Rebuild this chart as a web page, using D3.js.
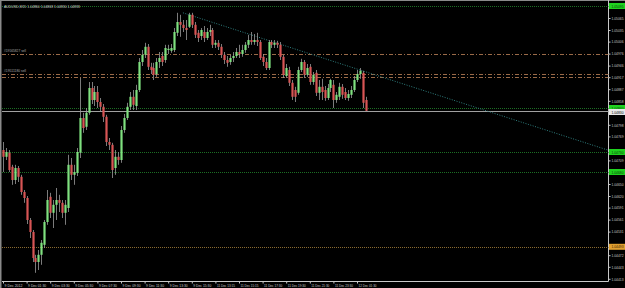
<!DOCTYPE html>
<html>
<head>
<meta charset="UTF-8">
<script src="https://d3js.org/d3.v7.min.js"></script>
<style>
  body { margin: 0; background: #000; }
  svg text { font-family: "Liberation Sans Narrow", "Arial Narrow", "Liberation Sans", sans-serif; }
</style>
</head>
<body>
<div id="chart"></div>
<script>
// AUDUSD M15 candles
const opens = [1.04735,1.04718,1.04728,1.04693,1.04660,1.04690,1.04668,1.04630,1.04615,1.04560,
  1.04530,1.04465,1.04455,1.04473,1.04498,1.04555,1.04618,1.04578,1.04598,1.04610,
  1.04603,1.04578,1.04590,1.04698,1.04673,1.04678,1.04728,1.04815,1.04793,1.04828,
  1.04890,1.04860,1.04880,1.04855,1.04843,1.04818,1.04755,1.04748,1.04690,1.04718,
  1.04710,1.04785,1.04815,1.04843,1.04868,1.04845,1.04885,1.04955,1.04973,1.04993,
  1.04943,1.04940,1.04925,1.04955,1.04970,1.04960,1.04985,1.04983,1.04985,1.05028,
  1.05055,1.05048,1.05040,1.05043,1.05073,1.05048,1.05028,1.05020,1.05030,1.05015,
  1.05030,1.05035,1.04998,1.05003,1.04993,1.04973,1.04960,1.04955,1.04965,1.04970,
  1.04980,1.04975,1.04985,1.04998,1.05010,1.05005,1.05010,1.05005,1.04968,1.04955,
  1.04940,1.05005,1.04998,1.05003,1.04998,1.04968,1.04920,1.04935,1.04903,1.04885,
  1.04878,1.04935,1.04955,1.04923,1.04943,1.04905,1.04928,1.04878,1.04893,1.04885,
  1.04865,1.04890,1.04898,1.04860,1.04868,1.04893,1.04880,1.04865,1.04873,1.04885,
  1.04910,1.04925,1.04928,1.04860];
const highs = [1.04755,1.04740,1.04735,1.04698,1.04698,1.04695,1.04673,1.04635,1.04620,1.04565,
  1.04535,1.04473,1.04485,1.04510,1.04560,1.04635,1.04628,1.04610,1.04640,1.04623,
  1.04610,1.04610,1.04723,1.04715,1.04698,1.04740,1.04915,1.04828,1.04840,1.04905,
  1.04905,1.04895,1.04895,1.04865,1.04850,1.04823,1.04765,1.04753,1.04735,1.04730,
  1.04795,1.04825,1.04853,1.04880,1.04885,1.04898,1.04965,1.04985,1.05003,1.05000,
  1.04953,1.04953,1.04965,1.04980,1.04980,1.04998,1.04998,1.05000,1.05040,1.05078,
  1.05073,1.05060,1.05060,1.05078,1.05078,1.05055,1.05035,1.05040,1.05045,1.05040,
  1.05048,1.05040,1.05010,1.05010,1.05000,1.04980,1.04970,1.04973,1.04980,1.04990,
  1.04998,1.04998,1.05005,1.05023,1.05030,1.05025,1.05028,1.05010,1.04975,1.04965,
  1.05010,1.05010,1.05010,1.05008,1.05005,1.04973,1.04950,1.04943,1.04910,1.04893,
  1.04943,1.04963,1.04960,1.04950,1.04950,1.04930,1.04935,1.04910,1.04913,1.04895,
  1.04900,1.04913,1.04910,1.04880,1.04903,1.04900,1.04890,1.04885,1.04895,1.04920,
  1.04935,1.04940,1.04933,1.04868];
const lows = [1.04680,1.04710,1.04680,1.04648,1.04650,1.04655,1.04623,1.04603,1.04550,1.04515,
  1.04455,1.04428,1.04435,1.04448,1.04490,1.04548,1.04565,1.04540,1.04560,1.04580,
  1.04565,1.04548,1.04580,1.04660,1.04648,1.04670,1.04715,1.04778,1.04785,1.04823,
  1.04850,1.04845,1.04840,1.04830,1.04805,1.04745,1.04735,1.04665,1.04673,1.04698,
  1.04703,1.04778,1.04810,1.04835,1.04835,1.04835,1.04880,1.04945,1.04965,1.04935,
  1.04925,1.04910,1.04918,1.04940,1.04945,1.04953,1.04975,1.04978,1.04980,1.05020,
  1.05018,1.05030,1.05010,1.05040,1.05040,1.05015,1.05005,1.05010,1.05005,1.05010,
  1.05020,1.04990,1.04990,1.04985,1.04965,1.04950,1.04943,1.04948,1.04955,1.04965,
  1.04965,1.04968,1.04978,1.04990,1.04998,1.04998,1.04995,1.04960,1.04945,1.04935,
  1.04935,1.04990,1.04990,1.04990,1.04960,1.04915,1.04915,1.04895,1.04860,1.04855,
  1.04873,1.04930,1.04915,1.04918,1.04898,1.04898,1.04870,1.04860,1.04860,1.04858,
  1.04860,1.04880,1.04840,1.04853,1.04860,1.04863,1.04860,1.04858,1.04865,1.04880,
  1.04905,1.04913,1.04840,1.04830];
const closes = [1.04718,1.04730,1.04685,1.04660,1.04690,1.04668,1.04630,1.04615,1.04560,1.04530,
  1.04465,1.04455,1.04473,1.04503,1.04555,1.04610,1.04578,1.04598,1.04610,1.04603,
  1.04578,1.04598,1.04698,1.04673,1.04680,1.04730,1.04815,1.04790,1.04828,1.04890,
  1.04860,1.04880,1.04855,1.04843,1.04818,1.04755,1.04748,1.04685,1.04718,1.04710,
  1.04785,1.04815,1.04843,1.04868,1.04848,1.04885,1.04955,1.04973,1.04993,1.04943,
  1.04935,1.04923,1.04955,1.04965,1.04955,1.04990,1.04988,1.04990,1.05030,1.05055,
  1.05048,1.05040,1.05035,1.05073,1.05048,1.05023,1.05015,1.05035,1.05015,1.05030,
  1.05035,1.04998,1.05003,1.04993,1.04973,1.04960,1.04953,1.04965,1.04970,1.04980,
  1.04975,1.04985,1.04998,1.05010,1.05005,1.05010,1.05005,1.04965,1.04955,1.04940,
  1.05005,1.04998,1.05003,1.04998,1.04968,1.04923,1.04940,1.04903,1.04868,1.04868,
  1.04935,1.04955,1.04923,1.04940,1.04905,1.04923,1.04878,1.04893,1.04880,1.04865,
  1.04890,1.04910,1.04860,1.04873,1.04893,1.04873,1.04865,1.04875,1.04885,1.04910,
  1.04925,1.04933,1.04853,1.04833];

// price scale labels on the right
const priceTicks = [1.05065,1.05035,1.05006,1.04976,1.04946,1.04917,1.04887,1.04858,1.04828,1.04798,
  1.04769,1.04739,1.04709,1.04680,1.04650,1.04620,1.04591,1.04561,1.04531,1.04502,
  1.04472,1.04443,1.04413];
// time labels, one every 8 bars
const timeLabels = ["9 Dec 2012","9 Dec 01:30","9 Dec 03:30","9 Dec 05:30","9 Dec 07:30","9 Dec 09:30",
  "9 Dec 11:30","9 Dec 13:30","9 Dec 15:30","11 Dec 13:15","11 Dec 15:15","11 Dec 17:30",
  "11 Dec 19:30","11 Dec 21:30","11 Dec 23:30","12 Dec 01:30"];

// horizontal levels
const greenLevels = [1.05095, 1.04840, 1.04730, 1.04680];
const orderLevels = [1.04976, 1.04924, 1.04918];
const orderNames = ["#19565827 sell", "#19511180 sell"];
const orangeLevel = 1.04493;
const bidPrice = 1.04833;
// trendline anchors [bar, price]
const trendA = [61, 1.05078];
const trendB = [163, 1.04835];
const title = "AUDUSD,M15  1.04860 1.04868 1.04830 1.04833";

const W = 625, H = 288;
const plotRight = 608.5, plotBottom = 281.5;
const fs = 4;  // terminal text is tiny

const svg = d3.select("#chart").append("svg")
  .attr("width", W).attr("height", H)
  .style("display", "block")
  .style("background", "#000");

var x = d3.scaleLinear().domain([0, 123]).range([3, 365.85]);
var y = d3.scaleLinear().domain([1.044075, 1.05105]).range([281, 2]);

// frame
svg.append("line").attr("x1", 0.5).attr("x2", 0.5).attr("y1", 0).attr("y2", H)
  .attr("stroke", "#8a8a8a").attr("stroke-width", 2);
svg.append("line").attr("x1", 0).attr("x2", W).attr("y1", 0.5).attr("y2", 0.5)
  .attr("stroke", "#8a8a8a").attr("stroke-width", 1);
svg.append("line").attr("x1", plotRight).attr("x2", plotRight).attr("y1", 0).attr("y2", plotBottom)
  .attr("stroke", "#c8c8c8");
svg.append("line").attr("x1", 2).attr("x2", plotRight).attr("y1", plotBottom).attr("y2", plotBottom)
  .attr("stroke", "#c8c8c8");

function hline(p, color, dash) {
  svg.append("line")
    .attr("x1", 2).attr("x2", plotRight)
    .attr("y1", Math.round(y(p)) + 0.5).attr("y2", Math.round(y(p)) + 0.5)
    .attr("stroke", color).attr("stroke-dasharray", dash);
}

// green dotted levels
greenLevels.forEach(function (p) { hline(p, "#1c6e24", "1,1"); });
// orange dotted level
hline(orangeLevel, "#8a6a30", "1,1");
// sell orders, dash-dot
orderLevels.forEach(function (p) { hline(p, "#9a6a48", "4,2,1,2"); });
orderNames.forEach(function (t, i) {
  svg.append("text")
    .attr("x", 4).attr("y", y(orderLevels[i]) - 2)
    .attr("font-size", fs).attr("fill", "#aaaaaa")
    .attr("textLength", 22).attr("lengthAdjust", "spacingAndGlyphs")
    .text(t);
});

// bid line
svg.append("line")
  .attr("x1", 2).attr("x2", plotRight)
  .attr("y1", Math.round(y(bidPrice)) + 0.5).attr("y2", Math.round(y(bidPrice)) + 0.5)
  .attr("stroke", "#a0a0a0");

// trendline, extended to the price scale
var slope = (trendB[1] - trendA[1]) / (trendB[0] - trendA[0]);
var endBar = x.invert(plotRight);
svg.append("line")
  .attr("x1", x(trendA[0])).attr("y1", y(trendA[1]))
  .attr("x2", x(endBar)).attr("y2", y(trendA[1] + slope * (endBar - trendA[0])))
  .attr("stroke", "#2f7f7f").attr("stroke-dasharray", "1,1.5");

// candles
var idx = d3.range(opens.length);
var candles = svg.append("g").selectAll("g").data(idx).enter().append("g");
candles.append("line")
  .attr("x1", function (i) { return Math.round(x(i)) + 0.5; })
  .attr("x2", function (i) { return Math.round(x(i)) + 0.5; })
  .attr("y1", function (i) { return y(highs[i]); })
  .attr("y2", function (i) { return y(lows[i]); })
  .attr("stroke", "#9a9a9a").attr("stroke-width", 0.8);
candles.append("rect")
  .attr("x", function (i) { return Math.round(x(i)) - 0.6; })
  .attr("width", 2.2)
  .attr("y", function (i) { return y(Math.max(opens[i], closes[i])); })
  .attr("height", function (i) { return Math.max(1, Math.abs(y(opens[i]) - y(closes[i]))); })
  .attr("fill", function (i) { return closes[i] >= opens[i] ? "#7fe07f" : "#d85555"; });

// price axis; skip scale labels hidden behind a price marker
var markerPrices = greenLevels.concat([orangeLevel, bidPrice]);
var shownTicks = priceTicks.filter(function (p) {
  return markerPrices.every(function (m) { return Math.abs(y(p) - y(m)) > 6; });
});
var yAxis = svg.append("g")
  .attr("transform", "translate(" + plotRight + ",0)")
  .call(d3.axisRight(y).tickValues(shownTicks).tickSize(2).tickFormat(d3.format(".5f")));
yAxis.select(".domain").remove();
yAxis.selectAll("line").attr("stroke", "#c8c8c8");
yAxis.selectAll("text").attr("fill", "#c8c8c8").attr("font-size", fs)
  .attr("x", 3).attr("textLength", 12).attr("lengthAdjust", "spacingAndGlyphs");

// time axis
var xAxis = svg.append("g")
  .attr("transform", "translate(0," + plotBottom + ")")
  .call(d3.axisBottom(x).tickValues(d3.range(0, 121, 8)).tickSize(2)
    .tickFormat(function (d, i) { return timeLabels[i]; }));
xAxis.select(".domain").remove();
xAxis.selectAll("line").attr("stroke", "#c8c8c8");
xAxis.selectAll("text").attr("fill", "#c8c8c8").attr("font-size", fs)
  .attr("text-anchor", "start").attr("x", 1).attr("y", 2.5)
  .attr("textLength", 18).attr("lengthAdjust", "spacingAndGlyphs");

// price markers on the scale
function marker(p, bg, fg) {
  var g = svg.append("g").attr("transform", "translate(" + (plotRight + 0.5) + "," + y(p) + ")");
  g.append("rect").attr("x", 0).attr("y", -3).attr("width", 16).attr("height", 6).attr("fill", bg);
  g.append("text").attr("x", 2.5).attr("y", 1.5).attr("font-size", fs).attr("fill", fg)
    .attr("textLength", 12).attr("lengthAdjust", "spacingAndGlyphs")
    .text(d3.format(".5f")(p));
}
greenLevels.forEach(function (p) { marker(p, "#1fd21f", "#0a3a0a"); });
marker(orangeLevel, "#e0a030", "#3a2000");
// bid marker sits just under the line, as in the terminal
marker(bidPrice - 0.00003, "#e8e8e8", "#000");

// title
svg.append("text")
  .attr("x", 4).attr("y", 7.5)
  .attr("font-size", fs).attr("fill", "#d0d0d0")
  .attr("textLength", 76).attr("lengthAdjust", "spacingAndGlyphs")
  .text(title);
</script>
</body>
</html>
